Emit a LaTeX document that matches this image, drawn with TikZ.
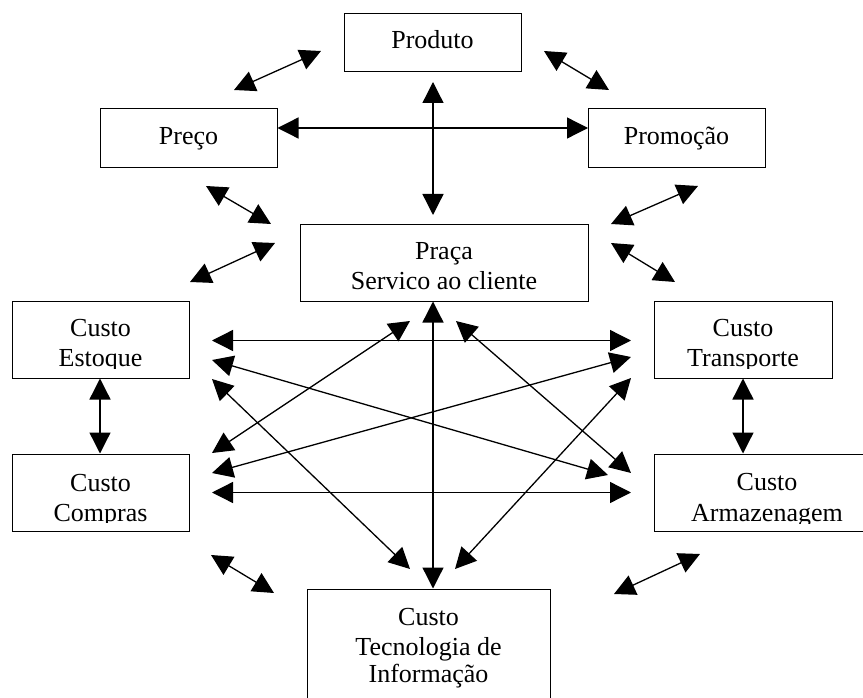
\documentclass[tikz,border=0pt]{standalone}
\usepackage{fontspec}
\setmainfont{Liberation Serif}
\usetikzlibrary{arrows.meta}
\begin{document}
\begin{tikzpicture}[x=1pt,y=-1pt,
  box/.style={draw, line width=1.3pt, inner sep=0pt, anchor=north west},
  lbl/.style={anchor=base, inner sep=0pt, font=\fontsize{26}{30}\selectfont},
  link/.style={line width=1.3pt, {Triangle[length=21pt,width=21pt]}-{Triangle[length=21pt,width=21pt]}}]
\useasboundingbox (0,0) rectangle (863,698);
% boxes
\node[box, minimum width=177pt, minimum height=58pt] (produto) at (344,12.7) {};
\node[box, minimum width=177pt, minimum height=59pt] (preco) at (100,108) {};
\node[box, minimum width=177pt, minimum height=59pt] (promocao) at (588,108) {};
\node[box, minimum width=288pt, minimum height=77pt] (praca) at (300,224) {};
\node[box, minimum width=177pt, minimum height=77pt] (estoque) at (12,301) {};
\node[box, minimum width=178pt, minimum height=77pt] (transporte) at (654,301) {};
\node[box, minimum width=177pt, minimum height=77pt] (compras) at (12,454) {};
\node[box, minimum width=226pt, minimum height=77pt] (armazenagem) at (654,454) {};
\node[box, minimum width=243pt, minimum height=130pt] (ti) at (307,589) {};
% texts
\node[lbl] (tprod) at (432.5,48.8) {Produto};
\node[lbl] (tpreco) at (188.5,144.3) {Preço};
\node[lbl] (tpromo) at (676.5,144.3) {Promoção};
\node[lbl] (tpraca1) at (444,259.3) {Praça};
\begin{scope}
\clip (300,224) rectangle (588,290.5);
\node[lbl] (tpraca2) at (444,289) {Servico ao cliente};
\end{scope}
\node[lbl] (test1) at (100.5,336.7) {Custo};
\begin{scope}
\clip (12,301) rectangle (189,368);
\node[lbl] (test2) at (100.5,366.7) {Estoque};
\end{scope}
\node[lbl] (ttra1) at (743,336.7) {Custo};
\begin{scope}
\clip (654,301) rectangle (832,368);
\node[lbl] (ttra2) at (743,366.7) {Transporte};
\end{scope}
\node[lbl] (tcom1) at (100.5,491.7) {Custo};
\begin{scope}
\clip (12,454) rectangle (189,522.5);
\node[lbl] (tcom2) at (100.5,521.3) {Compras};
\end{scope}
\node[lbl] (tarm1) at (767,490.5) {Custo};
\begin{scope}
\clip (654,454) rectangle (880,523);
\node[lbl] (tarm2) at (767,521.7) {Armazenagem};
\end{scope}
\node[lbl] (tti1) at (428.5,625) {Custo};
\node[lbl] (tti2) at (428.5,655) {Tecnologia de};
\node[lbl] (tti3) at (428.5,682) {Informação};
% arrow end points
\coordinate (a1s) at (234,90);   \coordinate (a1e) at (321,51);
\coordinate (a2s) at (544,51);   \coordinate (a2e) at (609,90);
\coordinate (a3s) at (433,82);   \coordinate (a3e) at (433,215);
\coordinate (a4s) at (277.5,128); \coordinate (a4e) at (588,128);
\coordinate (a5s) at (206,186);  \coordinate (a5e) at (271,224);
\coordinate (a6s) at (611,224);  \coordinate (a6e) at (698,186);
\coordinate (a7s) at (190,282);  \coordinate (a7e) at (275,243);
\coordinate (a8s) at (611,243);  \coordinate (a8e) at (675,282);
\coordinate (a9s) at (100,378.5); \coordinate (a9e) at (100,453.5);
\coordinate (a10s) at (743,378.5); \coordinate (a10e) at (743,453.5);
\coordinate (a11s) at (212,340.5); \coordinate (a11e) at (631,340.5);
\coordinate (a12s) at (212,492.5); \coordinate (a12e) at (631,492.5);
\coordinate (a13s) at (433,301.5); \coordinate (a13e) at (433,588.5);
\coordinate (a14s) at (212,453); \coordinate (a14e) at (410,321);
\coordinate (a15s) at (212,360); \coordinate (a15e) at (608,475);
\coordinate (a16s) at (212,379); \coordinate (a16e) at (410,569);
\coordinate (a17s) at (456,321); \coordinate (a17e) at (631,473);
\coordinate (a18s) at (631,357); \coordinate (a18e) at (212,473);
\coordinate (a19s) at (631,378); \coordinate (a19e) at (455,569);
\coordinate (a20s) at (211,555); \coordinate (a20e) at (274,593);
\coordinate (a21s) at (614,594); \coordinate (a21e) at (700,554);
\foreach \i in {1,...,21} {\draw[link] (a\i s) -- (a\i e);}
\end{tikzpicture}
\end{document}
